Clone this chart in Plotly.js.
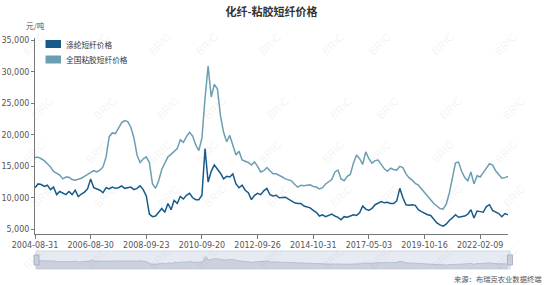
<!DOCTYPE html>
<html>
<head>
<meta charset="utf-8">
<script src="https://cdn.plot.ly/plotly-3.0.1.min.js"></script>
<style>
html,body{margin:0;padding:0;background:#fff;}
#chart{width:550px;height:285px;}
</style>
</head>
<body>
<div id="chart"></div>
<script>
var dates = [
'2004-08-31','2004-10-10','2004-11-20','2004-12-30','2005-02-08','2005-03-21','2005-04-30','2005-06-10','2005-07-20','2005-08-30','2005-10-09','2005-11-19','2005-12-29','2006-02-07','2006-03-20','2006-04-29','2006-06-09','2006-07-19',
'2006-08-30','2006-10-11','2006-11-22','2007-01-03','2007-02-14','2007-03-28','2007-05-09','2007-06-20','2007-08-01','2007-09-12','2007-10-24','2007-12-05','2008-01-16','2008-02-27','2008-04-09','2008-05-21','2008-07-02','2008-08-13',
'2008-09-23','2008-11-02','2008-12-12','2009-01-21','2009-03-02','2009-04-11','2009-05-21','2009-06-30','2009-08-09','2009-09-18','2009-10-28','2009-12-07','2010-01-16','2010-02-25','2010-04-06','2010-05-16','2010-06-25','2010-08-04',
'2010-09-20','2010-10-31','2010-12-11','2011-01-21','2011-03-03','2011-04-13','2011-05-24','2011-07-04','2011-08-14','2011-09-24','2011-11-04','2011-12-15','2012-01-25','2012-03-06','2012-04-16','2012-05-27','2012-07-07','2012-08-17',
'2012-09-26','2012-11-07','2012-12-20','2013-02-01','2013-03-16','2013-04-28','2013-06-10','2013-07-23','2013-09-04','2013-10-17','2013-11-29','2014-01-11','2014-02-23','2014-04-07','2014-05-20','2014-07-02','2014-08-14','2014-09-26',
'2014-10-31','2014-12-21','2015-02-09','2015-04-01','2015-05-22','2015-07-12','2015-09-01','2015-10-22','2015-12-12','2016-02-01','2016-03-23','2016-05-13','2016-07-03','2016-08-23','2016-10-13','2016-12-03','2017-01-23','2017-03-15',
'2017-05-03','2017-06-22','2017-08-11','2017-09-30','2017-11-19','2018-01-08','2018-02-27','2018-04-18','2018-06-07','2018-07-27','2018-09-15','2018-11-04','2018-12-24','2019-02-12','2019-04-03','2019-05-23','2019-07-12','2019-08-31',
'2019-10-16','2019-12-02','2020-01-18','2020-03-05','2020-04-21','2020-06-07','2020-07-24','2020-09-09','2020-10-26','2020-12-12','2021-01-28','2021-03-16','2021-05-02','2021-06-18','2021-08-04','2021-09-20','2021-11-06','2021-12-23',
'2022-02-09','2022-03-28','2022-05-14','2022-06-30','2022-08-16','2022-10-02','2022-11-18','2023-01-04','2023-02-20','2023-04-08'
];

// 涤纶短纤价格 (元/吨)
var polyester = [
11600,12200,12100,11800,12000,11300,11700,10500,11000,10800,10500,11000,10500,11200,10200,10600,10900,11400,
13000,11600,11400,11200,10800,11600,11400,11700,11500,11600,11900,11500,11600,11700,11300,11500,11900,11300,
10300,7400,7000,7100,7700,8300,7700,9100,8100,9600,9100,10200,9800,10400,10700,10000,9700,9700,
10400,17800,12500,14200,15200,14600,13900,13000,13400,13300,13800,12200,11600,12000,11200,10800,9700,10400,
10700,10500,11100,11500,10500,10300,10400,10000,10100,10100,9800,9500,9200,9100,9100,8700,8600,8400,
8000,7700,7100,7300,7000,7200,7400,7100,6900,6500,7000,6900,7100,7300,7200,7600,8700,8200,
8000,8300,8900,9200,9400,9200,9300,9100,9100,9500,11500,10000,8900,8800,8900,8800,8100,7800,
7500,7300,7200,6500,6000,5700,5500,5800,6400,6800,7300,6900,7000,7100,7400,8100,6800,7900,
7800,7700,8600,8900,8000,7800,7500,7000,7500,7300
];

// 全国粘胶短纤价格 (元/吨)
var viscose = [
16400,16450,16200,15900,15400,14900,14200,13900,13600,13000,13300,13250,12900,12800,12900,13100,13400,13700,
14000,14300,14100,14400,14900,16500,19700,20300,20200,21000,21900,22250,22100,21200,19500,16800,15600,16200,
16500,15600,12200,11500,12700,14500,15600,16500,16900,17300,17800,19200,18800,19700,20400,19800,18400,17500,
19500,25800,30900,26000,28000,27300,23000,20400,18900,19900,18300,16800,17400,16000,15800,15600,15200,15700,
15000,14100,14300,14800,14300,13800,13800,13600,13300,13000,12800,12700,12100,11700,12000,11900,12000,12050,
11800,11700,11400,11600,12200,12600,12900,14100,14400,13000,12700,13400,13700,15500,16800,16200,15300,17300,
16200,15500,15900,16000,15200,14600,14200,14700,14500,14400,15000,14800,13800,13200,12800,12300,12000,11400,
10900,10300,9600,9100,8700,8300,8200,9000,10700,13000,15500,15700,14200,13200,12700,14100,12200,13500,
13300,14000,14700,15400,15200,14300,13700,13100,13200,13400
];

var tickDates = ['2004-08-31','2006-08-30','2008-09-23','2010-09-20','2012-09-26','2014-10-31','2017-05-03','2019-10-16','2022-02-09'];
var seriesNames = ['涤纶短纤价格','全国粘胶短纤价格'];
var yTicks = [5000,10000,15000,20000,25000,30000,35000];

var C_DARK = '#165a8a';
var C_LIGHT = '#6c9eb2';

// pixel helpers (plot margins: l=35, r=42, t=38, b=16)
var W = 550, H = 285, ML = 35, MR = 42, MT = 38, MB = 16;
function px(x){ return (x - ML) / (W - ML - MR); }
function py(y){ return (H - MB - y) / (H - MT - MB); }

var traces = [
  {x: dates, y: viscose, type: 'scatter', mode: 'lines', name: seriesNames[1],
   line: {color: C_LIGHT, width: 1.5}, xaxis: 'x', yaxis: 'y', showlegend: false, hoverinfo: 'x+y'},
  {x: dates, y: polyester, type: 'scatter', mode: 'lines', name: seriesNames[0],
   line: {color: C_DARK, width: 1.5}, xaxis: 'x', yaxis: 'y', showlegend: false, hoverinfo: 'x+y'},
  {x: dates, y: polyester, type: 'scatter', mode: 'lines', fill: 'tozeroy',
   fillcolor: 'rgba(170,178,195,0.45)', line: {color: 'rgba(160,168,185,0.8)', width: 0.7},
   xaxis: 'x2', yaxis: 'y2', showlegend: false, hoverinfo: 'skip'}
];

var annotations = [
  {text: '元/吨', xref: 'paper', yref: 'paper', x: px(35), y: py(25), xanchor: 'center', yanchor: 'middle',
   showarrow: false, font: {size: 7.7, color: '#555', family: 'Noto Sans CJK SC'}},
  {text: seriesNames[0], xref: 'paper', yref: 'paper', x: px(64), y: py(44), xanchor: 'left', yanchor: 'middle',
   showarrow: false, font: {size: 7.7, color: '#333', family: 'Noto Sans CJK SC'}},
  {text: seriesNames[1], xref: 'paper', yref: 'paper', x: px(64), y: py(59.5), xanchor: 'left', yanchor: 'middle',
   showarrow: false, font: {size: 7.7, color: '#333', family: 'Noto Sans CJK SC'}},
  {text: '来源：布瑞克农业数据终端', xref: 'paper', yref: 'paper', x: px(544), y: py(279), xanchor: 'right', yanchor: 'middle',
   showarrow: false, font: {size: 7.3, color: '#555', family: 'Noto Sans CJK SC'}}
];

// faint watermark
var wmRows = [28, 92, 152, 212, 274];
for (var r = 0; r < wmRows.length; r++) {
  for (var c = 0; c < 9; c++) {
    annotations.push({text: 'BRIC', xref: 'paper', yref: 'paper',
      x: px(18 + c * 63 + (r % 2) * 8), y: py(wmRows[r]), showarrow: false, textangle: -45,
      font: {size: 11, color: 'rgba(150,150,150,0.13)', family: 'Arial'}});
  }
}

var shapes = [
  // legend swatches
  {type: 'rect', xref: 'paper', yref: 'paper', x0: px(45.5), x1: px(61), y0: py(48), y1: py(40),
   fillcolor: C_DARK, line: {width: 0}},
  {type: 'rect', xref: 'paper', yref: 'paper', x0: px(45.5), x1: px(61), y0: py(63.5), y1: py(55.5),
   fillcolor: C_LIGHT, line: {width: 0}},
  // slider background
  {type: 'rect', xref: 'paper', yref: 'paper', x0: px(36), x1: px(510), y0: py(269), y1: py(251),
   fillcolor: 'rgba(200,210,228,0.45)', line: {color: '#d4d9e2', width: 1}, layer: 'below'},
  // slider handles
  {type: 'rect', xref: 'paper', yref: 'paper', x0: px(34), x1: px(39), y0: py(265), y1: py(255),
   fillcolor: '#c7cfdc', line: {color: '#9ea9bb', width: 0.8}},
  {type: 'rect', xref: 'paper', yref: 'paper', x0: px(507.5), x1: px(512.5), y0: py(265), y1: py(255),
   fillcolor: '#c7cfdc', line: {color: '#9ea9bb', width: 0.8}}
];

var layout = {
  width: W, height: H,
  margin: {l: ML, r: MR, t: MT, b: MB, pad: 0},
  paper_bgcolor: '#fff', plot_bgcolor: 'rgba(0,0,0,0)',
  font: {family: 'Noto Sans CJK SC, DejaVu Sans', size: 8, color: '#555'},
  title: {text: '<b>化纤-粘胶短纤价格</b>', x: 0.5, xref: 'paper', xanchor: 'center', y: 1 - 12/285, yanchor: 'middle',
          font: {size: 11, color: '#333', family: 'Noto Sans CJK SC'}},
  showlegend: false,
  xaxis: {type: 'category', domain: [0, 1], anchor: 'y', range: [0, dates.length - 1],
          tickmode: 'array', tickvals: tickDates, ticktext: tickDates,
          ticks: 'outside', ticklen: 4, tickcolor: '#777', tickwidth: 1,
          showline: true, linecolor: '#777', linewidth: 1, showgrid: false, zeroline: false,
          tickfont: {size: 8, color: '#555', family: 'DejaVu Sans'}, tickangle: 0},
  yaxis: {domain: [py(233.5), 1], anchor: 'x', range: [4330, 35370],
          tickmode: 'array', tickvals: yTicks, tickformat: ',d',
          ticks: 'outside', ticklen: 3, tickcolor: '#777', showline: true, linecolor: '#777', linewidth: 1,
          showgrid: false, zeroline: false,
          tickfont: {size: 8, color: '#555', family: 'DejaVu Sans'}},
  xaxis2: {type: 'category', domain: [px(36), px(510)], anchor: 'y2', range: [0, dates.length - 1],
           showticklabels: false, ticks: '', showline: false, showgrid: false, zeroline: false},
  yaxis2: {domain: [0, py(251)], anchor: 'x2', range: [0, 26000],
           showticklabels: false, ticks: '', showline: false, showgrid: false, zeroline: false},
  annotations: annotations,
  shapes: shapes
};

Plotly.newPlot('chart', traces, layout, {staticPlot: true, displayModeBar: false});
</script>
</body>
</html>
